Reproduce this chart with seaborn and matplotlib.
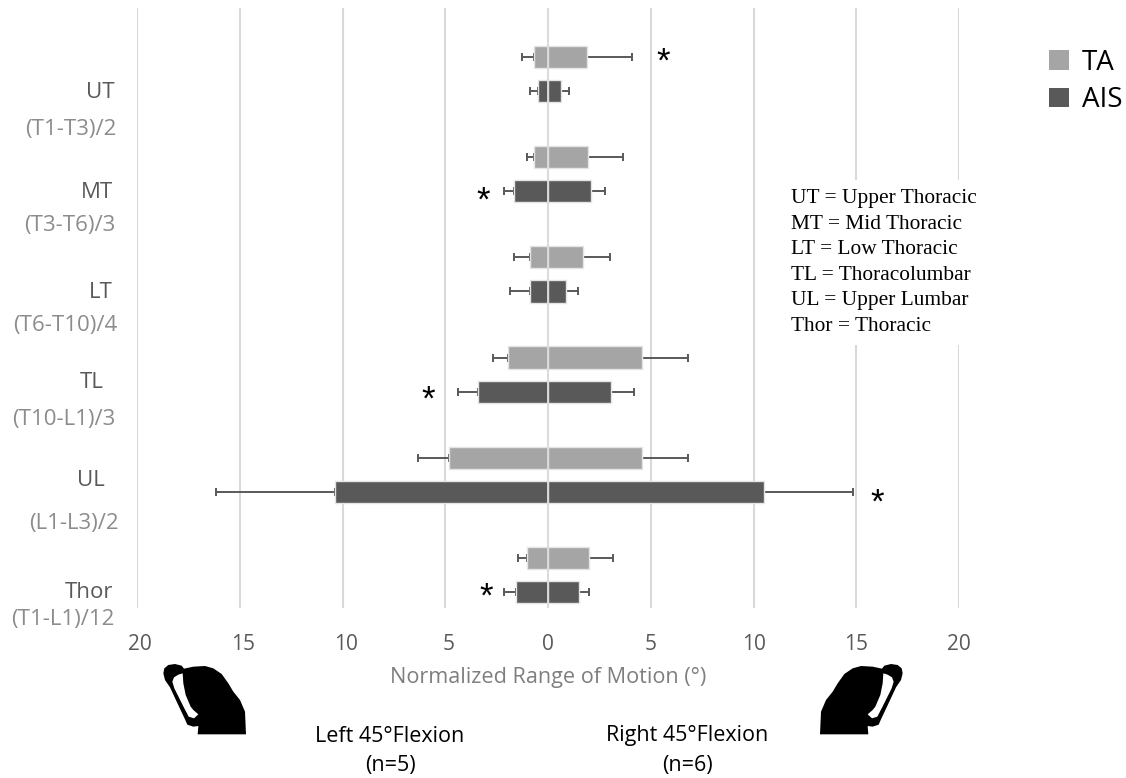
import numpy as np
import pandas as pd
import matplotlib
matplotlib.use("Agg")
import matplotlib.pyplot as plt
from matplotlib.patches import Patch, Polygon
from matplotlib.transforms import ScaledTranslation
import seaborn as sns

regions = ["UT", "MT", "LT", "TL", "UL", "Thor"]
spans = ["(T1-T3)/2", "(T3-T6)/3", "(T6-T10)/4", "(T10-L1)/3", "(L1-L3)/2", "(T1-L1)/12"]

ta_left = [0.7, 0.7, 0.9, 1.95, 4.8, 1.0]
ta_right = [1.9, 1.95, 1.7, 4.55, 4.55, 2.0]
ta_left_err = [1.25, 1.0, 1.65, 2.7, 6.35, 1.45]
ta_right_err = [4.1, 3.65, 3.0, 6.8, 6.8, 3.15]

ais_left = [0.5, 1.65, 0.9, 3.4, 10.35, 1.55]
ais_right = [0.65, 2.1, 0.9, 3.05, 10.5, 1.5]
ais_left_err = [0.9, 2.15, 1.85, 4.4, 16.15, 2.15]
ais_right_err = [1.0, 2.75, 1.45, 4.2, 14.85, 2.0]

star_values = [5.6, -3.15, -5.85, 16.0, -3.0]
star_rows = [0, 1, 3, 4, 5]
star_groups = ["TA", "AIS", "AIS", "AIS", "AIS"]
star_shifts = [0.05, 0.10, 0.08, 0.11, 0.05]

notes = ["UT = Upper Thoracic", "MT = Mid Thoracic", "LT = Low Thoracic",
         "TL = Thoracolumbar", "UL = Upper Lumbar", "Thor = Thoracic"]

COLORS = {"TA": "#a5a5a5", "AIS": "#595959"}
W, H = 1126, 778
sans = ["Open Sans", "DejaVu Sans"]

sns.set_theme(style="white")
plt.rcParams["font.family"] = sans

left_df = pd.DataFrame({"region": regions * 2, "group": ["TA"] * 6 + ["AIS"] * 6,
                        "value": [-v for v in ta_left] + [-v for v in ais_left]})
right_df = pd.DataFrame({"region": regions * 2, "group": ["TA"] * 6 + ["AIS"] * 6,
                         "value": ta_right + ais_right})

fig = plt.figure(figsize=(W / 100, H / 100), dpi=100, facecolor="white")
ax = fig.add_axes([137 / W, 1 - 608 / H, (959 - 137) / W, (608 - 8) / H])

for frame in (left_df, right_df):
    sns.barplot(data=frame, y="region", x="value", hue="group", order=regions,
                hue_order=["TA", "AIS"], palette=COLORS, orient="h", width=0.68,
                gap=0.35, errorbar=None, edgecolor="#e4e4e4", linewidth=1,
                legend=False, ax=ax)

OFFSET = 0.17
for group, sign, lefts, rights, l_err, r_err in [
    ("TA", -1, ta_left, ta_right, ta_left_err, ta_right_err),
    ("AIS", 1, ais_left, ais_right, ais_left_err, ais_right_err),
]:
    ys = np.arange(len(regions)) + sign * OFFSET
    ax.errorbar(-np.array(lefts), ys, xerr=[np.array(l_err) - np.array(lefts), np.zeros(6)],
                fmt="none", ecolor="#595959", elinewidth=1.4, capsize=2.9, capthick=1.4, zorder=0.9)
    ax.errorbar(rights, ys, xerr=[np.zeros(6), np.array(r_err) - np.array(rights)],
                fmt="none", ecolor="#595959", elinewidth=1.4, capsize=2.9, capthick=1.4, zorder=0.9)

ax.set_xlim(-20, 20)
ax.set_ylim((608 - 74) / 100.2, (8 - 74) / 100.2)
ticks = np.arange(-20, 21, 5)
ax.set_xticks(ticks)
ax.set_xticklabels([str(abs(t)) for t in ticks], fontsize=15, color="#595959")
ax.tick_params(axis="x", length=0, pad=19)
for t, lab in zip(ticks, ax.get_xticklabels()):
    if t < 0:
        lab.set_transform(lab.get_transform() + ScaledTranslation(3 / 100, 0, fig.dpi_scale_trans))
ax.set_yticks([])
ax.set_ylabel("")
ax.set_xlabel("")
ax.xaxis.grid(True, color="#d9d9d9", linewidth=1.5, zorder=0.5)
ax.yaxis.grid(False)
ax.set_axisbelow(True)
for s in ax.spines.values():
    s.set_visible(False)
ax.axvline(0, color="#dcdcdc", linewidth=1.3, zorder=5)

for value, row, group, shift in zip(star_values, star_rows, star_groups, star_shifts):
    y = row + (-OFFSET if group == "TA" else OFFSET) + shift
    ax.text(value, y, "*", fontsize=25, ha="center", va="center", color="black",
            family="Liberation Sans", zorder=6)


def px_text(x, y, s, **kw):
    fig.text(x / W, 1 - y / H, s, **kw)


label_px = [(115, 93), (113, 193), (113, 293), (104, 382), (105, 480), (113, 593)]
span_px = [(117, 130), (115, 226), (117, 325), (115, 420), (119, 524), (115, 619)]
for name, (x, y) in zip(regions, label_px):
    px_text(x, y, name, ha="right", va="center", fontsize=16, color="#595959")
for name, (x, y) in zip(spans, span_px):
    px_text(x, y, name, ha="right", va="center", fontsize=16, color="#8c8c8c")

px_text(548, 678, "Normalized Range of Motion (°)", ha="center", va="center", fontsize=15.6, color="#7f7f7f")
px_text(390, 736, "Left 45°Flexion", ha="center", va="center", fontsize=15.5, color="black")
px_text(390, 766, "(n=5)", ha="center", va="center", fontsize=15.5, color="black")
px_text(687, 736, "Right 45°Flexion", ha="center", va="center", fontsize=15.5, color="black")
px_text(687, 766, "(n=6)", ha="center", va="center", fontsize=15.5, color="black")

px_text(791, 262.5, "\n".join(notes), ha="left", va="center", fontsize=15.4,
        family="Liberation Serif", color="black", linespacing=1.47, zorder=7,
        bbox=dict(facecolor="white", edgecolor="none", pad=6.5))

handles = [Patch(facecolor=COLORS[k], edgecolor="none", label=k) for k in ["TA", "AIS"]]
fig.legend(handles=handles, loc="upper left", bbox_to_anchor=(1049 / W, 1 - 49 / H), frameon=False,
           fontsize=20, handlelength=0.72, handleheight=0.72, handletextpad=0.45,
           labelspacing=0.33, borderpad=0, borderaxespad=0, labelcolor="black")

# decorative bent-over figure, drawn in pixel positions
body = np.array([(100, 70), (103, 55), (115, 45), (135, 42), (155, 47), (162, 56), (190, 50),
                 (225, 48), (250, 55), (275, 72), (295, 100), (310, 125), (330, 150), (345, 185),
                 (348, 253), (203, 253), (205, 228), (190, 230), (172, 224), (165, 208),
                 (140, 155), (120, 112), (105, 90)], float)
arm = np.array([(127, 95), (132, 82), (145, 74), (158, 70), (160, 100), (167, 135), (182, 170),
                (190, 180), (205, 193), (192, 205), (176, 200), (163, 175), (148, 145),
                (133, 115)], float)


def figure_poly(points, color, mirror):
    xs = 130 + points[:, 0] / 3
    ys = 650 + points[:, 1] / 3
    if mirror:
        xs = 1066 - xs
    fig.add_artist(Polygon(np.c_[xs / W, 1 - ys / H], closed=True, facecolor=color, edgecolor="none",
                           transform=fig.transFigure))


for mirror in (False, True):
    figure_poly(body, "black", mirror)
    figure_poly(arm, "white", mirror)

fig.savefig("out.png", dpi=100, facecolor="white")
